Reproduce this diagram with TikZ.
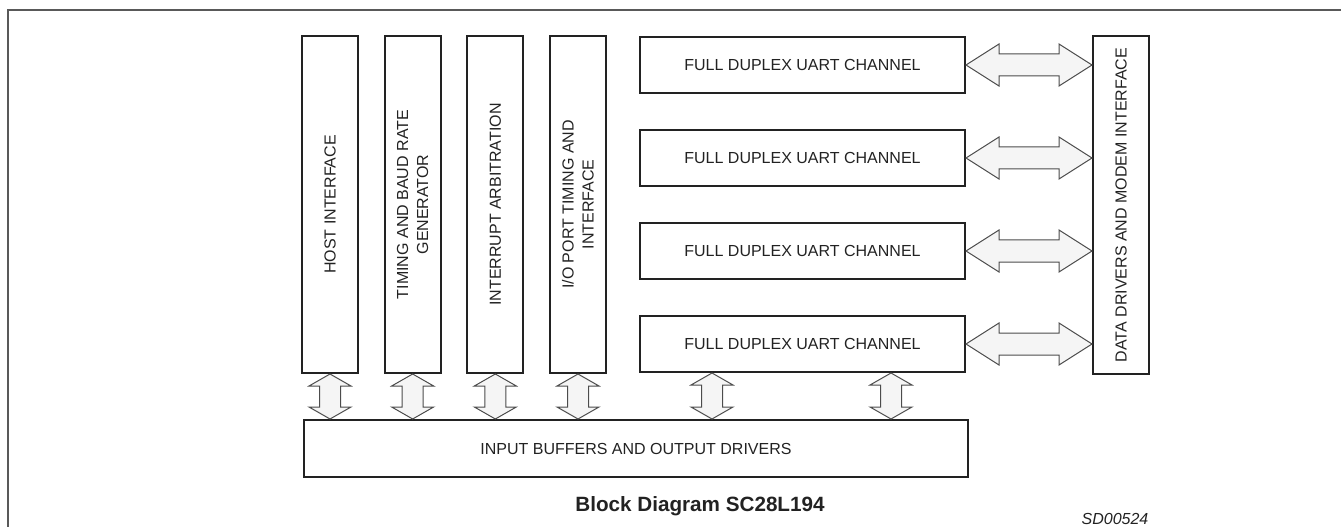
\documentclass[tikz,border=0pt]{standalone}
\usepackage{fontspec}
\setmainfont{Liberation Sans}
\usetikzlibrary{calc,positioning}
\definecolor{ink}{HTML}{222222}
\definecolor{busfill}{HTML}{F5F5F5}
\tikzstyle{col} = [rectangle, minimum width=42pt, minimum height=252.75pt, inner sep=0pt,
draw=ink, line width=1.5pt, text=ink, font=\fontsize{12}{15}\selectfont]
\tikzstyle{uart} = [rectangle, minimum width=243.75pt, minimum height=42pt, inner sep=0pt,
draw=ink, line width=1.5pt, text=ink, font=\fontsize{12}{15}\selectfont]
\tikzstyle{bus} = [draw=black!70, line width=0.75pt, fill=busfill, line join=miter]
\tikzstyle{frame} = [draw=black!65, line width=1.5pt]
\tikzset{vtext/.style={label={[rotate=90,align=center,text=ink,font=\fontsize{12}{15}\selectfont]center:#1}}}
% horizontal and vertical two way buses
\newcommand{\hbus}[2]{\draw[bus] (#1) -- ++(33,21) -- ++(0,-10) -- ($(#2)+(-33,11)$) -- ++(0,10)
  -- (#2) -- ++(-33,-21) -- ++(0,10) -- ($(#1)+(33,-11)$) -- ++(0,-10) -- cycle;}
\newcommand{\vbus}[2]{\draw[bus] (#1) -- ++(21,12) -- ++(-10.5,0) -- ($(#2)+(10.5,-12)$) -- ++(10.5,0)
  -- (#2) -- ++(-21,-12) -- ++(10.5,0) -- ($(#1)+(-10.5,12)$) -- ++(-10.5,0) -- cycle;}
\begin{document}
\begin{tikzpicture}[x=0.75pt, y=-0.75pt, node distance=18.5pt]
\useasboundingbox (0,0) rectangle (1341,527);
\draw[frame] (8,527) |- (1341,10);

\node (1)[col, vtext={HOST INTERFACE}] at (330,204.5){};
\node (2)[col, right=of 1, vtext={TIMING AND BAUD RATE\\GENERATOR}]{};
\node (3)[col, right=of 2, vtext={INTERRUPT ARBITRATION}]{};
\node (4)[col, right=of 3, vtext={I/O PORT TIMING AND\\INTERFACE}]{};
\node (5)[uart] at (802.5,65){FULL DUPLEX UART CHANNEL};
\node (6)[uart, below=26.25pt of 5]{FULL DUPLEX UART CHANNEL};
\node (7)[uart, below=26.25pt of 6]{FULL DUPLEX UART CHANNEL};
\node (8)[uart, below=26.25pt of 7]{FULL DUPLEX UART CHANNEL};
\node (9)[col, vtext={DATA DRIVERS AND MODEM INTERFACE}] at (1121,205){};
\node (10)[uart, minimum width=498pt, minimum height=42.75pt] at (636,448.5){INPUT BUFFERS AND OUTPUT DRIVERS};
\node (11)[text=ink, font=\fontsize{15.5}{18}\selectfont\bfseries] at (700,506){Block Diagram SC28L194};
\node (12)[text=ink, font=\fontsize{12}{14}\selectfont\itshape] at (1115,519){SD00524};

\coordinate (a) at ($(8.south)+(-90.5,0)$);
\coordinate (b) at ($(8.south)+(88.5,0)$);

\hbus{5.east}{9.west |- 5.east}
\hbus{6.east}{9.west |- 6.east}
\hbus{7.east}{9.west |- 7.east}
\hbus{8.east}{9.west |- 8.east}
\vbus{1.south}{1.south |- 10.north}
\vbus{2.south}{2.south |- 10.north}
\vbus{3.south}{3.south |- 10.north}
\vbus{4.south}{4.south |- 10.north}
\vbus{a}{a |- 10.north}
\vbus{b}{b |- 10.north}
\end{tikzpicture}
\end{document}
